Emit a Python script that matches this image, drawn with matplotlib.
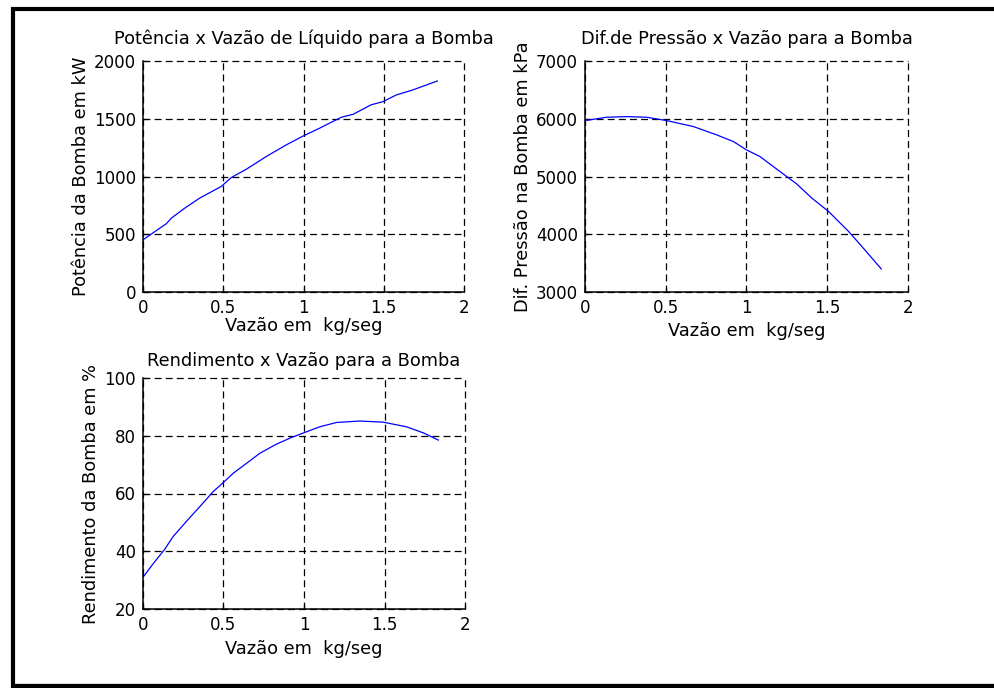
import matplotlib
matplotlib.use("Agg")
import matplotlib.pyplot as plt
from matplotlib.lines import Line2D

plt.rcParams['font.family'] = ['DejaVu Sans']
plt.rcParams['lines.scale_dashes'] = False

# Vazão (kg/s) e potência (kW)
vazao_pot = [0.0, 0.145, 0.177, 0.26, 0.353, 0.488, 0.55, 0.644, 0.768, 0.893,
             1.0, 1.10, 1.236, 1.31, 1.42, 1.495, 1.578, 1.68, 1.834]
potencia = [452, 591, 640, 726, 813, 914, 991, 1063, 1173, 1274,
            1352, 1418, 1513, 1539, 1620, 1648, 1706, 1749, 1827]

# Vazão (kg/s) e diferença de pressão (kPa)
vazao_dp = [0.0, 0.134, 0.258, 0.382, 0.506, 0.671, 0.816, 0.919, 1.0, 1.083,
            1.207, 1.31, 1.405, 1.508, 1.632, 1.705, 1.835]
dif_pressao = [5968, 6026, 6037, 6026, 5968, 5865, 5720, 5605, 5461, 5346,
               5086, 4873, 4625, 4395, 4049, 3818, 3398]

# Vazão (kg/s) e rendimento (%)
vazao_ef = [0.0, 0.062, 0.135, 0.187, 0.269, 0.352, 0.435, 0.497, 0.56, 0.642,
            0.725, 0.829, 0.922, 0.998, 1.098, 1.202, 1.347, 1.492, 1.637, 1.741, 1.834]
rendimento = [31.0, 35.6, 40.7, 45.1, 50.3, 55.4, 60.6, 63.7, 67.0, 70.4,
              73.9, 77.1, 79.4, 81.0, 83.1, 84.6, 85.1, 84.7, 83.1, 81.0, 78.5]

x_ticks = [0, 0.5, 1, 1.5, 2]
x_ticklabels = ['0', '0.5', '1', '1.5', '2']

W, H = 995, 688
fig = plt.figure(figsize=(W / 100, H / 100), dpi=100)
fig.patch.set_facecolor('white')

FS_TICK = 12
FS_TEXT = 12.8


def make_axes(px_left, px_top, px_w, px_h):
    return fig.add_axes([px_left / W, (H - px_top - px_h) / H, px_w / W, px_h / H])


def style(ax, yticks, ylim, title, ylabel, title_pad, xlabel_pad, ylabel_pad):
    ax.set_xlim(0, 2)
    ax.set_ylim(*ylim)
    ax.set_xticks(x_ticks)
    ax.set_xticklabels(x_ticklabels)
    ax.set_yticks(yticks)
    ax.set_yticklabels([str(v) for v in yticks])
    ax.grid(True, color='black', linestyle=(0, (5, 3)), linewidth=0.9)
    for gl in ax.get_xgridlines() + ax.get_ygridlines():
        gl.set_clip_on(False)
    ax.spines['top'].set_visible(False)
    ax.spines['right'].set_visible(False)
    for s in ('left', 'bottom'):
        ax.spines[s].set_linewidth(1.1)
        ax.spines[s].set_color('black')
    ax.tick_params(direction='in', length=3.5, width=0.9, labelsize=FS_TICK, pad=5)
    ax.set_title(title, fontsize=FS_TEXT, pad=title_pad)
    ax.set_xlabel('Vazão em  kg/seg', fontsize=FS_TEXT, labelpad=xlabel_pad)
    ax.set_ylabel(ylabel, fontsize=FS_TEXT, labelpad=ylabel_pad)


ax1 = make_axes(143, 61, 321, 231)
ax1.plot(vazao_pot, potencia, color='#0000ff', linewidth=0.9)
style(ax1, [0, 500, 1000, 1500, 2000], (0, 2000),
      'Potência x Vazão de Líquido para a Bomba', 'Potência da Bomba em kW',
      title_pad=12, xlabel_pad=0, ylabel_pad=3)

ax2 = make_axes(585, 61, 323, 231)
ax2.plot(vazao_dp, dif_pressao, color='#0000ff', linewidth=0.9)
style(ax2, [3000, 4000, 5000, 6000, 7000], (3000, 7000),
      'Dif.de Pressão x Vazão para a Bomba', 'Dif. Pressão na Bomba em kPa',
      title_pad=12, xlabel_pad=4, ylabel_pad=3)

ax3 = make_axes(143, 378, 322, 231)
ax3.plot(vazao_ef, rendimento, color='#0000ff', linewidth=0.9)
style(ax3, [20, 40, 60, 80, 100], (20, 100),
      'Rendimento x Vazão para a Bomba', 'Rendimento da Bomba em %',
      title_pad=9, xlabel_pad=4, ylabel_pad=3)

# moldura da figura
fig.add_artist(Line2D([11 / W, 1.0], [1 - 9 / H, 1 - 9 / H], transform=fig.transFigure,
                      color='black', linewidth=3.0, solid_capstyle='butt'))
fig.add_artist(Line2D([13 / W, 13 / W], [0.0, 1 - 7 / H], transform=fig.transFigure,
                      color='black', linewidth=3.0, solid_capstyle='butt'))
fig.add_artist(Line2D([11 / W, 1.0], [2.5 / H, 2.5 / H], transform=fig.transFigure,
                      color='black', linewidth=3.8, solid_capstyle='butt'))

fig.savefig('out.png', dpi=100)
